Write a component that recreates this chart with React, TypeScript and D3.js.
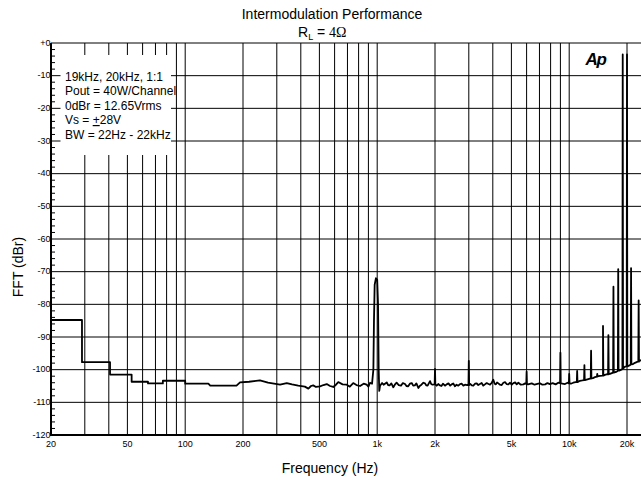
import React from 'react';
import * as d3 from 'd3';

// ---- data ----
const floorTrace: [number, number][] = [
  [20, -84.8], [29, -84.8], [29, -97.7], [40.6, -97.7], [40.6, -101.5], [52.6, -101.5],
  [52.6, -103.7], [64, -103.7], [64, -104.2], [76.5, -104.2], [76.5, -103.4], [100, -103.4],
  [100, -104.3], [102, -104.3], [132, -104.3], [135, -104.9], [185, -104.9], [193, -103.9],
  [215, -103.7], [245, -103.3], [270, -104.0], [312, -104.6], [338, -104.1], [360, -104.5],
  [388, -104.9], [420, -105.2], [438, -105.8], [452, -105.0], [464, -104.8], [480, -105.3],
  [504, -105.1], [525, -104.7], [546, -104.4], [568, -105.0], [590, -105.3], [610, -104.6],
  [627, -103.8], [660, -104.5], [694, -104.6], [720, -105.2], [750, -104.1], [780, -104.7],
  [814, -105.0], [850, -104.3], [881, -104.6], [900, -105.2], [918, -104.0], [940, -104.3],
  [955, -100], [962, -85], [970, -74], [985, -72], [1000, -72.5], [1010, -80], [1018, -100],
  [1025, -106.5], [1035, -104.9], [1060, -104.1], [1080, -104.6], [1121, -103.9], [1140, -104.7],
  [1160, -104.8], [1185, -104.2], [1213, -105.4], [1235, -104.6], [1262, -104.0], [1295, -104.7],
  [1330, -104.9], [1360, -104.1], [1396, -104.4], [1420, -105.0], [1450, -105.1], [1480, -104.3],
  [1513, -104.1], [1540, -104.9], [1570, -104.8], [1600, -104.2], [1638, -105.6], [1670, -104.9],
  [1700, -104.6], [1740, -104.0], [1774, -104.2], [1800, -104.8], [1830, -104.9], [1860, -104.1],
  [1884, -103.5], [1910, -104.4], [1940, -104.6], [2040, -104.9], [2080, -104.4], [2120, -104.8],
  [2160, -105.0], [2200, -104.3], [2254, -104.9], [2300, -104.5], [2350, -104.2], [2400, -104.9],
  [2444, -104.5], [2490, -104.2], [2540, -105.1], [2590, -104.6], [2645, -104.9], [2700, -104.4],
  [2750, -104.3], [2810, -104.9], [2865, -104.6], [2940, -104.7], [3060, -104.4], [3110, -104.8],
  [3167, -104.9], [3230, -104.3], [3300, -104.2], [3360, -104.7], [3430, -104.4], [3500, -104.1],
  [3570, -104.9], [3640, -104.5], [3717, -104.1], [3800, -104.4], [3870, -104.6], [3950, -104.0],
  [4025, -103.1], [4090, -104.3], [4150, -104.5], [4210, -103.9], [4275, -104.2], [4360, -104.6],
  [4450, -104.7], [4540, -104.0], [4633, -103.8], [4720, -104.4], [4820, -104.5], [4920, -104.0],
  [5019, -104.6], [5120, -104.1], [5230, -103.9], [5330, -104.5], [5435, -104.0], [5600, -104.6],
  [5775, -104.5], [5900, -104.2], [6100, -104.5], [6380, -104.2], [6600, -104.6], [6905, -104.3],
  [7050, -104.2], [7250, -104.6], [7500, -104.5], [7700, -104.1], [7940, -104.4], [8200, -104.1],
  [8500, -104.5], [8770, -104.0], [9200, -104.3], [9510, -104.4], [9800, -104.0], [10200, -104.3],
  [10500, -104.0], [10800, -103.8], [11380, -103.4], [11700, -103.3], [12200, -103.1], [12570, -102.9],
  [13300, -102.6], [13620, -102.3], [14200, -102.0], [14460, -101.9], [15000, -101.8], [15350, -101.6],
  [15800, -101.4], [16300, -101.3], [16800, -101.0], [17540, -100.7], [18200, -100.3], [18800, -99.9],
  [19530, -99.1], [20300, -98.9], [20740, -98.6], [21500, -98.3], [22000, -97.9], [22600, -97.6],
  [23180, -97.3], [23700, -97.1],
];

const spikeFreqs = [2000, 3000, 6000, 9000, 10000, 11000, 12000, 13000, 14000, 15000, 16000, 17000, 18000, 19000, 20000, 21000, 23000];
const spikeTops = [-99.8, -97.3, -100.6, -94.8, -101.3, -100.4, -98.6, -94.2, -101.3, -86.6, -89.4, -74.6, -69.2, -3.5, -3.5, -68.9, -78.8];
const spikeBases = [-104.5, -104.7, -104.4, -104.1, -104.2, -103.8, -103.2, -102.7, -102.1, -101.8, -101.4, -100.9, -100.3, -99.7, -99.0, -98.4, -97.5];

const yTickValues = [0, -10, -20, -30, -40, -50, -60, -70, -80, -90, -100, -110, -120];
const yTickLabels = ['+0', '-10', '-20', '-30', '-40', '-50', '-60', '-70', '-80', '-90', '-100', '-110', '-120'];
const xTickValues = [20, 50, 100, 200, 500, 1000, 2000, 5000, 10000, 20000];
const xTickLabels = ['20', '50', '100', '200', '500', '1k', '2k', '5k', '10k', '20k'];
const legendLines = ['19kHz, 20kHz, 1:1', 'Pout = 40W/Channel', '0dBr = 12.65Vrms', 'Vs = +28V', 'BW = 22Hz - 22kHz'];

const W = 641;
const H = 481;
const LEFT = 51;
const TOP = 43;
const BOTTOM = 435;
const X20K = 627;
const RIGHT = 645;
const FONT = 'Liberation Sans, Arial, sans-serif';

export default function App() {
  const x = d3.scaleLog().domain([20, 20000]).range([LEFT, X20K]);
  const y = d3.scaleLinear().domain([-120, 0]).range([BOTTOM, TOP]);

  const gridFreqs = d3.scaleLog().domain([20, 20000]).ticks();
  const minorY = d3.range(-120, 0, 2).filter((v) => v % 10 !== 0);

  const pts: [number, number][] = floorTrace.slice();
  spikeFreqs.forEach((f, i) => {
    pts.push([f * 0.996, spikeBases[i]], [f, spikeTops[i]], [f * 1.004, spikeBases[i]]);
  });
  pts.sort((a, b) => a[0] - b[0]);

  const line = d3
    .line<[number, number]>()
    .x((d) => x(d[0]))
    .y((d) => y(d[1]));

  return (
    <svg
      width={W}
      height={H}
      style={{ position: 'absolute', left: 0, top: 0, background: '#fff' }}
      fontFamily={FONT}
    >
      <defs>
        <clipPath id="plotClip">
          <rect x={LEFT} y={TOP - 1} width={RIGHT - LEFT} height={BOTTOM - TOP + 1} />
        </clipPath>
      </defs>
      <rect x={0} y={0} width={W} height={H} fill="#fff" />

      {/* grid */}
      {gridFreqs.map((f) => (
        <line key={'v' + f} x1={x(f)} x2={x(f)} y1={TOP} y2={BOTTOM} stroke="#000" strokeWidth={1} />
      ))}
      {yTickValues.map((v) => (
        <line key={'h' + v} x1={LEFT} x2={RIGHT} y1={y(v)} y2={y(v)} stroke="#000" strokeWidth={1} />
      ))}

      {/* minor ticks on left axis */}
      {minorY.map((v) => (
        <line key={'m' + v} x1={LEFT} x2={LEFT + 4} y1={y(v)} y2={y(v)} stroke="#000" strokeWidth={1} />
      ))}

      {/* legend block */}
      <rect x={60.5} y={55} width={110.5} height={100} fill="#fff" />
      <g fontSize={12} fill="#000">
        {legendLines.map((t, i) => {
          const yy = 80.5 + i * 14.5;
          if (t.startsWith('Vs')) {
            return (
              <text key={t} x={65} y={yy}>
                Vs = <tspan style={{ textDecoration: 'underline' }}>+</tspan>28V
              </text>
            );
          }
          return (
            <text key={t} x={65} y={yy}>
              {t}
            </text>
          );
        })}
      </g>

      {/* trace */}
      <path
        d={line(pts) || ''}
        fill="none"
        stroke="#000"
        strokeWidth={1.8}
        strokeLinejoin="round"
        clipPath="url(#plotClip)"
      />

      {/* axes */}
      <line x1={LEFT} x2={LEFT} y1={TOP} y2={BOTTOM + 1} stroke="#000" strokeWidth={2} />
      <line x1={LEFT - 1} x2={RIGHT} y1={BOTTOM} y2={BOTTOM} stroke="#000" strokeWidth={2.2} />

      {/* y tick labels */}
      <g fontSize={9} fill="#000" textAnchor="end">
        {yTickValues.map((v, i) => (
          <text key={'yl' + v} x={LEFT - 0.5} y={y(v) + 2.5}>
            {yTickLabels[i]}
          </text>
        ))}
      </g>
      {/* x tick labels */}
      <g fontSize={9} fill="#000" textAnchor="middle">
        {xTickValues.map((v, i) => (
          <text key={'xl' + v} x={x(v)} y={446.5}>
            {xTickLabels[i]}
          </text>
        ))}
      </g>

      {/* titles */}
      <text x={332} y={19} fontSize={14} textAnchor="middle" fill="#000">
        Intermodulation Performance
      </text>
      <text x={298} y={37} fontSize={14} fill="#000">
        R<tspan dy={3} fontSize={9}>L</tspan>
        <tspan dy={-3}> = </tspan>
        <tspan fontFamily="Liberation Serif, Times New Roman, serif">4Ω</tspan>
      </text>
      <text x={330} y={472.5} fontSize={14} textAnchor="middle" fill="#000">
        Frequency (Hz)
      </text>
      <text transform="translate(22.5,267) rotate(-90)" fontSize={14} textAnchor="middle" fill="#000">
        FFT (dBr)
      </text>

      {/* Ap logo */}
      <text x={585.5} y={65} fontSize={17} fontWeight="bold" fontStyle="italic" letterSpacing={-1.2} fill="#000">
        Ap
      </text>
    </svg>
  );
}
